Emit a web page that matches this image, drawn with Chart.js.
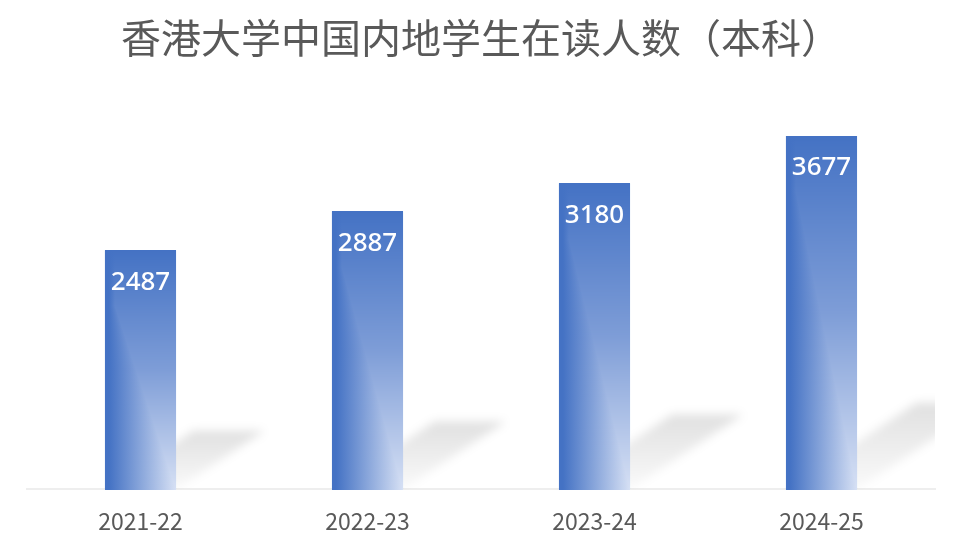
<!DOCTYPE html>
<html>
<head>
<meta charset="utf-8">
<script src="https://cdn.jsdelivr.net/npm/chart.js@4"></script>
<style>
html,body{margin:0;padding:0;background:#fff;}
#wrap{width:958px;height:547px;position:relative;}
</style>
</head>
<body>
<div id="wrap"><canvas id="c"></canvas></div>
<script>
const titleText = '香港大学中国内地学生在读人数（本科）';
const categories = ['2021-22', '2022-23', '2023-24', '2024-25'];
const students = [2487, 2887, 3180, 3677];

const BAR_PCT = 0.313;
const BLUE = [68, 114, 196];
const MID = [126, 157, 215];
const LIGHT = [214, 224, 244];

function mix(a, b, t) {
  return a.map((v, i) => Math.round(v + (b[i] - v) * t));
}
function vertColor(f) {
  f = Math.max(0, Math.min(1, f));
  return f < 0.5 ? mix(BLUE, MID, f / 0.5) : mix(MID, LIGHT, (f - 0.5) / 0.5);
}
function rgb(c) { return 'rgb(' + c.join(',') + ')'; }

const barStyle = {
  id: 'barStyle',
  beforeDatasetsDraw(chart) {
    const ctx = chart.ctx;
    const meta = chart.getDatasetMeta(0);
    const area = chart.chartArea;
    ctx.save();
    ctx.beginPath();
    ctx.rect(area.left, 0, area.right - area.left, area.bottom);
    ctx.clip();
    meta.data.forEach(el => {
      const p = el.getProps(['x', 'y', 'base', 'width'], true);
      const l = p.x - p.width / 2, r = p.x + p.width / 2;
      const h = p.base - p.y;
      const dx = 0.37 * h, dy = -0.245 * h;
      const g = ctx.createLinearGradient(0, p.base, 0, p.base + dy);
      g.addColorStop(0, 'rgba(0,0,0,0.02)');
      g.addColorStop(1, 'rgba(0,0,0,0.12)');
      ctx.filter = 'blur(5px)';
      ctx.fillStyle = g;
      ctx.beginPath();
      ctx.moveTo(l, p.base);
      ctx.lineTo(r, p.base);
      ctx.lineTo(r + dx, p.base + dy);
      ctx.lineTo(l + dx, p.base + dy);
      ctx.closePath();
      ctx.fill();
    });
    ctx.restore();
  },
  afterDatasetsDraw(chart) {
    const ctx = chart.ctx;
    const meta = chart.getDatasetMeta(0);
    const data = chart.data.datasets[0].data;
    // gradient shading over each bar
    ctx.save();
    meta.data.forEach(el => {
      const p = el.getProps(['x', 'y', 'base', 'width'], true);
      const l = p.x - p.width / 2, r = p.x + p.width / 2;
      const top = p.y, bottom = p.base, h = bottom - top;
      const y0 = top + 55, x0 = l + 10;
      for (let y = Math.floor(top); y < bottom; y++) {
        const f = (y + 0.5 - top) / h;
        const c = vertColor(f);
        ctx.fillStyle = rgb(c);
        ctx.fillRect(l, y, r - l, 1);
        let lx;
        if (y < y0) lx = l + 10;
        else lx = x0 + (r - x0) * (y - y0) / (bottom - y0);
        if (lx > l + 5) {
          const g = ctx.createLinearGradient(l + 4, 0, lx, 0);
          g.addColorStop(0, rgb(BLUE));
          g.addColorStop(1, rgb(c));
          ctx.fillStyle = g;
          ctx.fillRect(l, y, Math.min(lx, r) - l, 1);
        }
      }
    });
    ctx.restore();
    // value labels
    ctx.save();
    ctx.fillStyle = '#ffffff';
    ctx.font = '500 26px "Noto Sans", sans-serif';
    ctx.textAlign = 'center';
    ctx.textBaseline = 'middle';
    meta.data.forEach((el, i) => {
      const p = el.getProps(['x', 'y'], true);
      ctx.fillText(String(data[i]), p.x, p.y + 32);
    });
    ctx.restore();
  }
};

new Chart(document.getElementById('c'), {
  type: 'bar',
  data: {
    labels: categories,
    datasets: [{
      data: students,
      backgroundColor: '#4472c4',
      borderWidth: 0,
      categoryPercentage: 1,
      barPercentage: BAR_PCT
    }]
  },
  options: {
    responsive: true,
    maintainAspectRatio: false,
    animation: false,
    devicePixelRatio: 1,
    layout: { padding: { left: 27, right: 23, top: 0, bottom: -6 } },
    plugins: {
      legend: { display: false },
      tooltip: { enabled: false },
      title: {
        display: true,
        text: titleText,
        color: '#595959',
        font: { family: '"Noto Sans CJK SC", sans-serif', size: 40, weight: 'normal' },
        padding: { top: 14, bottom: 43 }
      }
    },
    scales: {
      x: {
        grid: { display: false, drawTicks: false, tickLength: 0 },
        border: { display: true, color: '#eeeeee', width: 2 },
        ticks: {
          color: '#595959',
          padding: 18,
          font: { family: '"Noto Sans CJK SC", sans-serif', size: 23 }
        }
      },
      y: {
        display: false,
        min: 0,
        max: 4000
      }
    }
  },
  plugins: [barStyle]
});
</script>
</body>
</html>
